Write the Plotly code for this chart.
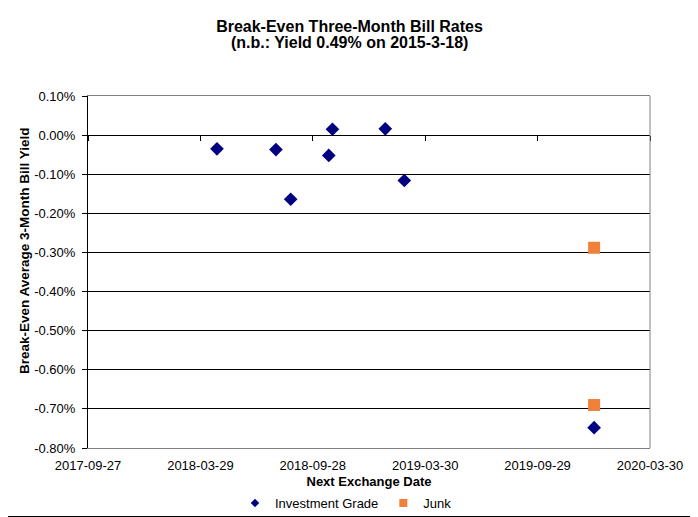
import plotly.graph_objects as go

# ---- data ----
ig_dates = ["2018-04-25", "2018-07-30", "2018-08-23", "2018-10-24", "2018-10-30",
            "2019-01-24", "2019-02-24", "2019-12-30"]
ig_yield = [-0.035, -0.037, -0.164, -0.052, 0.015, 0.016, -0.116, -0.748]

junk_dates = ["2019-12-30", "2019-12-30"]
junk_yield = [-0.288, -0.690]

x_range = ["2017-09-27", "2020-03-30"]
x_tick0 = "2017-09-27"
x_dtick_days = 183
y_range = [-0.80, 0.10]
y_tick_vals = [0.10, 0.00, -0.10, -0.20, -0.30, -0.40, -0.50, -0.60, -0.70, -0.80]
y_tick_labels = ["0.10%", "0.00%", "-0.10%", "-0.20%", "-0.30%", "-0.40%", "-0.50%",
                 "-0.60%", "-0.70%", "-0.80%"]

title_line1 = "Break-Even Three-Month Bill Rates"
title_line2 = "(n.b.: Yield 0.49% on 2015-3-18)"
x_title = "Next Exchange Date"
y_title = "Break-Even Average 3-Month Bill Yield"

# ---- layout geometry (the page body adds an 8px offset) ----
OFF = 8
W, H = 698 - OFF, 517 - OFF
ML, MT = 88 - OFF, 96 - OFF
PW, PH = 562, 352
MR, MB = W - ML - PW, H - MT - PH


def px_x(sx):  # screen x -> paper x
    return (sx - OFF - ML) / PW


def px_y(sy):  # screen y -> paper y
    return 1 - (sy - OFF - MT) / PH


FONT = "Liberation Sans, Arial, sans-serif"
NAVY = "#000080"
ORANGE = "#F0803A"

fig = go.Figure()
fig.add_trace(go.Scatter(x=ig_dates, y=ig_yield, mode="markers", name="Investment Grade",
                         marker=dict(symbol="diamond", size=10.5, color=NAVY, line=dict(width=0)),
                         showlegend=False))
fig.add_trace(go.Scatter(x=junk_dates, y=junk_yield, mode="markers", name="Junk",
                         marker=dict(symbol="square", size=12, color=ORANGE, line=dict(width=0)),
                         showlegend=False))
# legend entries (small markers, Excel style)
fig.add_trace(go.Scatter(x=[None], y=[None], mode="markers", name="Investment Grade",
                         marker=dict(symbol="diamond", size=6.5, color=NAVY)))
fig.add_trace(go.Scatter(x=[None], y=[None], mode="markers", name="Junk",
                         marker=dict(symbol="square", size=8, color=ORANGE)))
# dummy trace on the crossing x-axis (at y=0)
fig.add_trace(go.Scatter(x=[None], y=[None], xaxis="x2", showlegend=False, hoverinfo="skip"))

fig.update_layout(
    width=W, height=H,
    margin=dict(l=ML, r=MR, t=MT, b=MB, pad=0, autoexpand=False),
    paper_bgcolor="white", plot_bgcolor="white",
    font=dict(family=FONT, size=13, color="black"),
    title=dict(text="<b>" + title_line1 + "</b>",
               x=px_x(349.5), xanchor="center", xref="paper",
               y=1 - (26.2 - OFF) / H, yanchor="middle", yref="container",
               font=dict(family=FONT, size=16, color="black")),
    xaxis=dict(type="date", range=x_range, tick0=x_tick0, dtick=x_dtick_days * 86400000,
               tickformat="%Y-%m-%d", showgrid=False, zeroline=False, automargin=False,
               showline=True, linecolor="#808080", linewidth=1, mirror=True,
               ticks="", tickfont=dict(size=13), ticklabelstandoff=5,
               title=dict(text="<b>" + x_title + "</b>", font=dict(size=13), standoff=5)),
    xaxis2=dict(type="date", overlaying="x", matches="x", anchor="free", automargin=False,
                position=(0 - y_range[0]) / (y_range[1] - y_range[0]), side="bottom",
                range=x_range, tick0=x_tick0, dtick=x_dtick_days * 86400000,
                showticklabels=False, showgrid=False, zeroline=False,
                showline=True, linecolor="black", linewidth=1,
                ticks="outside", ticklen=5, tickcolor="black", tickwidth=1),
    yaxis=dict(range=y_range, tickmode="array", tickvals=y_tick_vals, ticktext=y_tick_labels,
               showgrid=True, gridcolor="black", gridwidth=1, zeroline=False, automargin=False,
               showline=True, linecolor="black", linewidth=1,
               ticks="outside", ticklen=5, tickcolor="black", tickfont=dict(size=13),
               ticklabelstandoff=4),
    legend=dict(orientation="h", x=px_x(346), xanchor="center", y=px_y(503),
                yanchor="middle", font=dict(size=13), itemwidth=30, bgcolor="rgba(0,0,0,0)",
                tracegroupgap=0),
    annotations=[
        dict(text="<b>" + title_line2 + "</b>", xref="paper", yref="paper",
             x=px_x(349.5), y=px_y(42), xanchor="center", yanchor="middle",
             showarrow=False, font=dict(family=FONT, size=16, color="black")),
        dict(text="<b>" + y_title + "</b>", xref="paper", yref="paper",
             x=px_x(24), y=px_y(251), xanchor="center", yanchor="middle", textangle=-90,
             showarrow=False, font=dict(family=FONT, size=13.5, color="black")),
    ],
    shapes=[
        # right border of plot area
        dict(type="line", xref="paper", yref="paper", x0=1, x1=1, y0=0, y1=1,
             line=dict(color="#808080", width=1)),
        # chart area border (right and bottom edges visible in the window)
        dict(type="line", xref="paper", yref="paper",
             x0=px_x(697.5), x1=px_x(697.5), y0=px_y(0), y1=px_y(516.5),
             line=dict(color="black", width=1), layer="below"),
        dict(type="line", xref="paper", yref="paper",
             x0=px_x(0), x1=px_x(697.5), y0=px_y(516.5), y1=px_y(516.5),
             line=dict(color="black", width=1), layer="below"),
    ],
    showlegend=True,
)

fig.write_html("out.html")
